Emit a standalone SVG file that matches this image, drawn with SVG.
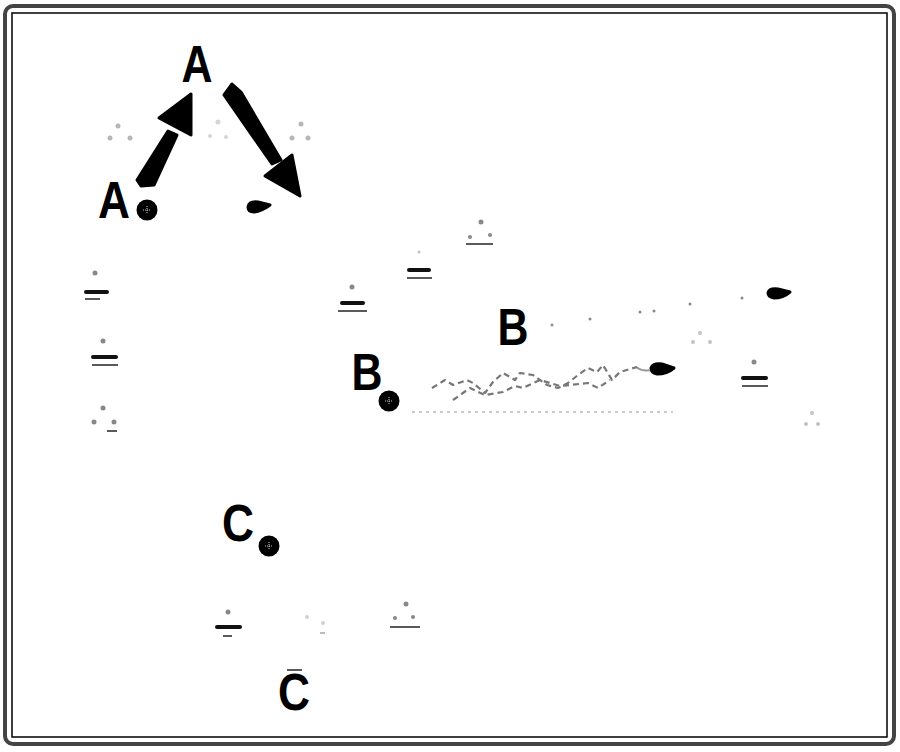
<svg xmlns="http://www.w3.org/2000/svg" width="900" height="752" viewBox="0 0 900 752">
<style>
.lbl{font-family:"Liberation Sans","DejaVu Sans",sans-serif;font-weight:bold;font-size:52px;fill:#000}
.dot{fill:#000}
.faint{fill:#888}
.bar{stroke:#111;stroke-width:4;stroke-linecap:round}
.ul{stroke:#000;stroke-width:1.3}
.blob{fill:#000;stroke:#000;stroke-width:3;stroke-linejoin:round}
.zig{fill:none;stroke:#777;stroke-width:2.2;stroke-dasharray:6 4;stroke-linejoin:round}
</style>
<defs>
<g id="pin"><circle r="10.5" fill="#000"/><path d="M-4 0H4M0-4V4" stroke="#fff" stroke-width="0.8" stroke-dasharray="1 1"/></g>
</defs>
<rect width="900" height="752" fill="#fff"/>
<rect x="5" y="6" width="889" height="738" rx="8" fill="none" stroke="#444" stroke-width="4"/>
<rect x="12" y="13" width="875" height="724" fill="none" stroke="#000" stroke-width="1.5"/>

<g id="connectors">
<polygon points="137,180 141,186 154,185 177,135 168,131" class="blob"/>
<polygon points="159,118 191,94 191,135" class="blob"/>
<polygon points="224,95 232,84 241,92 281,160 272,164" class="blob"/>
<polygon points="265,176 292,155 300,196" class="blob"/>
<path d="M248,207 Q249,201 258,202 L270,205 Q262,211 254,212 Q248,212 248,207Z" class="blob"/>
<path d="M651,368 Q653,363 662,364 L674,368 Q667,374 657,374 Q651,373 651,368Z" class="blob"/>
<path d="M636,367 Q643,372 650,370" fill="none" stroke="#999" stroke-width="2"/>
<path d="M768,293 Q769,288 778,289 L790,292 Q783,298 774,298 Q768,297 768,293Z" class="blob"/>
<polyline class="zig" points="432,388 445,380 453,385 467,380 473,383 485,393 493,382 503,373 515,380 520,373 533,375 547,385 558,388 568,383 578,375 588,368 597,372 603,365 612,380 620,372 637,367"/>
<polyline class="zig" points="453,400 470,388 485,395 503,392 515,386 523,388 540,380 560,386 588,383 598,388 610,380"/>
<line x1="412" y1="412" x2="673" y2="412" stroke="#999" stroke-width="1" stroke-dasharray="3 4"/>
</g>

<g id="nodeA1"><text class="lbl" x="197" y="82" text-anchor="middle" textLength="31" lengthAdjust="spacingAndGlyphs">A</text></g>
<g id="nodeA2"><text class="lbl" x="114" y="218" text-anchor="middle" textLength="32" lengthAdjust="spacingAndGlyphs">A</text><use href="#pin" x="147" y="210"/></g>
<g id="nodeB1"><text class="lbl" x="513" y="345" text-anchor="middle" textLength="31" lengthAdjust="spacingAndGlyphs">B</text></g>
<g id="nodeB2"><text class="lbl" x="367" y="390" text-anchor="middle" textLength="31" lengthAdjust="spacingAndGlyphs">B</text><use href="#pin" x="389" y="401"/></g>
<g id="nodeC1"><text class="lbl" x="238" y="541" text-anchor="middle" textLength="32" lengthAdjust="spacingAndGlyphs">C</text><use href="#pin" x="269" y="546"/></g>
<g id="nodeC2"><text class="lbl" x="294" y="710" text-anchor="middle" textLength="32" lengthAdjust="spacingAndGlyphs">C</text><line x1="287" y1="670" x2="302" y2="670" class="ul"/></g>

<g id="markers">
<g opacity="0.6"><circle cx="118" cy="126" r="2.5" class="faint"/><circle cx="110" cy="138" r="2.5" class="faint"/><circle cx="130" cy="138" r="2.5" class="faint"/></g>
<g opacity="0.35"><circle cx="218" cy="122" r="2.5" class="faint"/><circle cx="210" cy="136" r="2" class="faint"/><circle cx="226" cy="137" r="2" class="faint"/></g>
<g opacity="0.6"><circle cx="301" cy="124" r="2.5" class="faint"/><circle cx="292" cy="138" r="2.5" class="faint"/><circle cx="308" cy="138" r="2.5" class="faint"/></g>

<circle cx="95" cy="273" r="2.5" class="faint"/><line x1="86" y1="292" x2="107" y2="292" class="bar"/><line x1="85" y1="299" x2="100" y2="299" class="ul"/>
<circle cx="103" cy="341" r="2.5" class="faint"/><line x1="93" y1="357" x2="116" y2="357" class="bar"/><line x1="92" y1="365" x2="118" y2="365" class="ul"/>
<circle cx="103" cy="408" r="2.5" class="faint"/><circle cx="94" cy="422" r="2.5" class="faint"/><circle cx="114" cy="422" r="2.5" class="faint"/><line x1="107" y1="431" x2="117" y2="431" class="ul"/>

<circle cx="352" cy="287" r="2.5" class="faint"/><line x1="342" y1="303" x2="363" y2="303" class="bar"/><line x1="338" y1="311" x2="367" y2="311" class="ul"/>
<circle cx="419" cy="252" r="1.5" class="faint" opacity="0.5"/><line x1="409" y1="270" x2="429" y2="270" class="bar"/><line x1="407" y1="278" x2="432" y2="278" class="ul"/>
<circle cx="481" cy="222" r="2.5" class="faint"/><circle cx="470" cy="237" r="2" class="faint"/><circle cx="490" cy="235" r="2" class="faint"/><line x1="466" y1="244" x2="493" y2="244" class="ul"/>
<circle cx="754" cy="362" r="2.5" class="faint"/><line x1="743" y1="378" x2="766" y2="378" class="bar"/><line x1="742" y1="386" x2="768" y2="386" class="ul"/>
<g opacity="0.5"><circle cx="700" cy="333" r="2" class="faint"/><circle cx="693" cy="342" r="2" class="faint"/><circle cx="710" cy="342" r="2" class="faint"/></g>
<g opacity="0.5"><circle cx="812" cy="413" r="2" class="faint"/><circle cx="806" cy="424" r="2" class="faint"/><circle cx="818" cy="424" r="2" class="faint"/></g>
<circle cx="552" cy="325" r="1.5" class="faint"/><circle cx="590" cy="319" r="1.5" class="faint"/><circle cx="640" cy="312" r="1.5" class="faint"/><circle cx="654" cy="311" r="1.5" class="faint"/><circle cx="690" cy="304" r="1.5" class="faint"/><circle cx="742" cy="298" r="1.5" class="faint"/>

<circle cx="228" cy="612" r="2.5" class="faint"/><line x1="217" y1="627" x2="240" y2="627" class="bar"/><line x1="223" y1="636" x2="232" y2="636" class="ul"/>
<g opacity="0.4"><circle cx="307" cy="617" r="2" class="faint"/><circle cx="323" cy="623" r="2" class="faint"/><line x1="320" y1="633" x2="325" y2="633" class="ul"/></g>
<circle cx="406" cy="604" r="2.5" class="faint"/><circle cx="395" cy="618" r="2" class="faint"/><circle cx="413" cy="617" r="2" class="faint"/><line x1="390" y1="627" x2="420" y2="627" class="ul"/>
</g>
</svg>
